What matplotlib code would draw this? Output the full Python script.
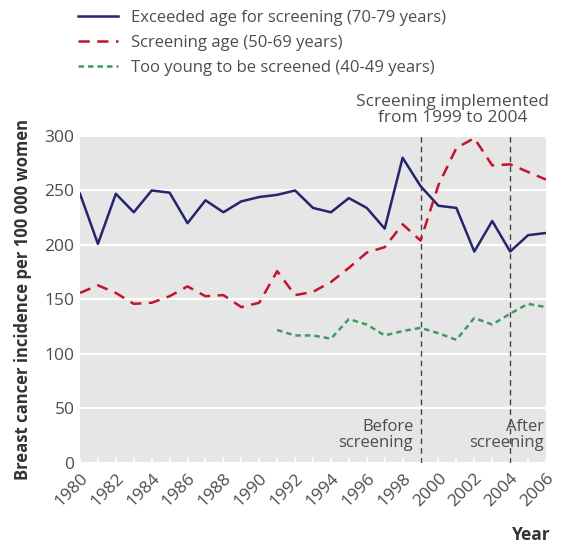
import matplotlib
matplotlib.use("Agg")
import matplotlib.pyplot as plt

plt.rcParams['font.family'] = ['Open Sans', 'DejaVu Sans']

# data
years = list(range(1980, 2007))
exceeded_70_79 = [247, 201, 247, 230, 250, 248, 220, 241, 230, 240, 244, 246, 250, 234,
                  230, 243, 234, 215, 280, 254, 236, 234, 194, 222, 194, 209, 211]
screening_50_69 = [156, 163, 156, 146, 147, 153, 162, 153, 154, 143, 147, 176, 154, 157,
                   166, 179, 193, 198, 219, 204, 255, 289, 298, 273, 274, 267, 260]
young_years = list(range(1991, 2007))
young_40_49 = [122, 117, 117, 114, 132, 127, 117, 121, 124, 119, 113, 133, 127, 137, 146, 143]

xtick_years = list(range(1980, 2007, 2))
ytick_vals = [0, 50, 100, 150, 200, 250, 300]

blue = '#25256f'
red = '#c4132c'
green = '#3f9a62'
grey_text = '#4d4d4d'

fig = plt.figure(figsize=(5.63, 5.47), dpi=100)
ax = fig.add_axes([0.1421, 0.1536, 0.8277, 0.5978])
ax.set_facecolor('#e6e6e6')
for s in ax.spines.values():
    s.set_visible(False)

ax.set_xlim(1980, 2006)
ax.set_ylim(0, 300)
ax.set_yticks(ytick_vals)
ax.yaxis.grid(True, color='white', linewidth=1.6)
ax.set_axisbelow(True)
ax.tick_params(axis='y', length=0, labelsize=12.5, labelcolor=grey_text, pad=4)

ax.set_xticks(years, minor=True)
ax.set_xticks(xtick_years)
ax.set_xticklabels([str(y) for y in xtick_years], rotation=45, ha='right',
                   rotation_mode='anchor')
ax.tick_params(axis='x', which='both', direction='in', color='white', length=4,
               width=1.2, labelsize=12.5, labelcolor=grey_text, pad=5)

l1, = ax.plot(years, exceeded_70_79, color=blue, lw=1.8,
              label='Exceeded age for screening (70-79 years)')
l2, = ax.plot(years, screening_50_69, color=red, lw=1.8, dashes=(4.5, 3),
              label='Screening age (50-69 years)')
l3, = ax.plot(young_years, young_40_49, color=green, lw=1.8, dashes=(2.2, 1.6),
              label='Too young to be screened (40-49 years)')

for yr in (1999, 2004):
    ax.axvline(yr, color='#444444', lw=1.0, dashes=(4, 3), zorder=1)

ax.text(1998.6, 11, 'Before\nscreening', ha='right', va='bottom', fontsize=12,
        color=grey_text, linespacing=1.0)
ax.text(2005.9, 11, 'After\nscreening', ha='right', va='bottom', fontsize=12,
        color=grey_text, linespacing=1.0)
ax.text(2000.8, 309, 'Screening implemented\nfrom 1999 to 2004', ha='center',
        va='bottom', fontsize=12.5, color=grey_text, linespacing=1.0)

ax.set_ylabel('Breast cancer incidence per 100 000 women', fontsize=12,
              fontweight='bold', color='#333333', labelpad=9)
fig.text(0.978, 0.005, 'Year', ha='right', va='bottom', fontsize=12.5,
         fontweight='bold', color='#333333')

fig.legend(handles=[l1, l2, l3], loc='upper left', bbox_to_anchor=(0.112, 1.01),
           frameon=False, fontsize=12, handlelength=2.4, handletextpad=0.75,
           labelspacing=0.55, labelcolor=grey_text)

fig.savefig('out.png', dpi=100)
